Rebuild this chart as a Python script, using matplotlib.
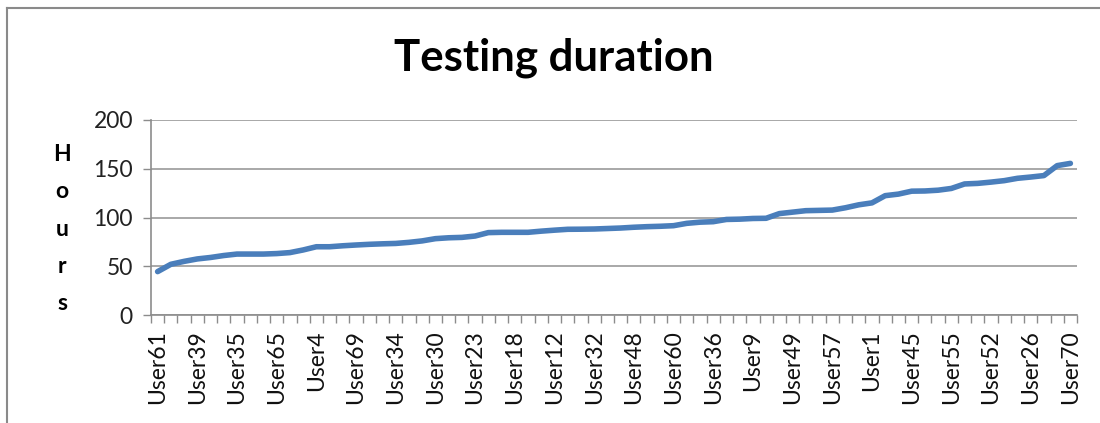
import matplotlib
matplotlib.use("Agg")
import matplotlib.pyplot as plt
from matplotlib.lines import Line2D

# ---- data ----
tick_labels = ["User61", "User39", "User35", "User65", "User4", "User69", "User34",
               "User30", "User23", "User18", "User12", "User32", "User48", "User60",
               "User36", "User9", "User49", "User57", "User1", "User45", "User55",
               "User52", "User26", "User70"]
hours = [44.5, 52, 55, 57.5, 59, 61, 62.5, 62.5, 62.5, 63,
         64, 66.7, 70, 70, 71, 71.8, 72.5, 73, 73.4, 74.5,
         76, 78.3, 79.2, 79.6, 81, 84.5, 84.8, 84.8, 84.8, 86,
         87, 87.9, 88, 88.2, 88.7, 89.2, 90, 90.6, 91, 91.6,
         94, 95.2, 95.7, 98, 98.3, 99, 99.2, 104, 105.5, 107,
         107.3, 107.6, 110, 113, 115, 122.4, 124, 127, 127.2, 128,
         129.8, 134.4, 135, 136.3, 137.8, 140.2, 141.5, 143, 153.2, 155.5]
yticks = [0, 50, 100, 150, 200]
label_step = 3

plt.rcParams['font.family'] = ['Lato', 'DejaVu Sans']

W, H = 1100, 423
fig = plt.figure(figsize=(W / 100, H / 100), dpi=100)

ax = fig.add_axes([151 / W, 1 - 315 / H, (1077 - 151) / W, (315 - 120) / H])
n = len(hours)
x = list(range(n))
ax.plot(x, hours, color="#4A7EBB", lw=4, solid_capstyle="round", solid_joinstyle="round")

ax.set_xlim(-0.5, n - 0.5)
ax.set_ylim(0, 200)
ax.set_yticks(yticks)
ax.set_yticklabels([str(v) for v in yticks], fontsize=16.5, color="#222222")
ax.yaxis.grid(True, color="#9a9a9a", lw=1.2)
ax.set_axisbelow(True)

# category boundary ticks
ax.set_xticks([i - 0.5 for i in range(n + 1)])
ax.set_xticklabels([])
ax.set_xticks(list(range(0, n, label_step)), minor=True)
ax.set_xticklabels(tick_labels, minor=True, rotation=90, fontsize=16.5, color="#111111")
ax.tick_params(axis="x", which="major", length=6, color="#8c8c8c", width=1)
ax.tick_params(axis="x", which="minor", length=0, pad=11)
ax.tick_params(axis="y", length=6, color="#8c8c8c", width=1, pad=7)

for s in ["top", "right"]:
    ax.spines[s].set_visible(False)
for s in ["left", "bottom"]:
    ax.spines[s].set_color("#8c8c8c")
    ax.spines[s].set_linewidth(1.2)

fig.text(554 / W, 1 - 58 / H, "Testing duration", ha="center", va="center",
         fontsize=31.5, fontweight="bold", color="#000000")
fig.text(62 / W, 1 - 229 / H, "H\no\nu\nr\ns", ha="center", va="center",
         fontsize=16.5, fontweight="bold", color="#000000", linespacing=1.95)

# outer chart frame (left and top edges visible)
fig.add_artist(Line2D([7 / W, 7 / W], [0, 1 - 8 / H], color="#8a8a8a", lw=1.5))
fig.add_artist(Line2D([7 / W, 1], [1 - 8 / H, 1 - 8 / H], color="#8a8a8a", lw=1.5))

fig.savefig("out.png", dpi=100)
